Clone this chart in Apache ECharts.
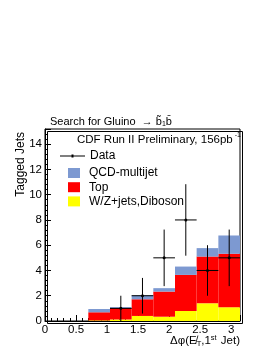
<!DOCTYPE html>
<html><head><meta charset="utf-8">
<script src="https://cdn.jsdelivr.net/npm/echarts@6/dist/echarts.min.js"></script>
<style>html,body{margin:0;padding:0;background:#fff}#c{width:273px;height:353px}</style>
</head><body><div id="c"></div>
<script>
// Bin edges of delta-phi (radians)
const binEdges = [0, 0.349, 0.698, 1.047, 1.396, 1.745, 2.094, 2.443, 2.793, 3.142];
// Stacked background contributions per bin
const wzDiboson = [0, 0, 0.05, 0.12, 0.40, 0.34, 0.79, 1.40, 1.09];
const topQuark  = [0, 0, 0.64, 0.91, 1.32, 1.99, 2.86, 3.70, 4.23];
const qcdMulti  = [0, 0, 0.26, 0.07, 0.32, 0.27, 0.66, 0.67, 1.45];
// Observed data and its error
const dataCounts = [0, 0, 0, 1, 2, 5, 8, 4, 5];
const dataErrors = [0, 0, 0, 1, 1.41, 2.24, 2.83, 2, 2.24];
const xTicks = [0, 0.5, 1, 1.5, 2, 2.5, 3];
const yTicks = [0, 2, 4, 6, 8, 10, 12, 14];

const FONT = 'Liberation Sans, Arial, Helvetica, sans-serif';
const chart = echarts.init(document.getElementById('c'), null, {renderer: 'canvas'});

function stackData(layers, idx) {
  const out = [];
  for (let i = 0; i < binEdges.length - 1; i++) {
    let base = 0;
    for (let k = 0; k < idx; k++) base += layers[k][i];
    out.push([binEdges[i], binEdges[i + 1], base, base + layers[idx][i]]);
  }
  return out;
}
const layers = [wzDiboson, topQuark, qcdMulti];

function histItem(params, api) {
  const p0 = api.coord([api.value(0), api.value(3)]);
  const p1 = api.coord([api.value(1), api.value(2)]);
  const h = p1[1] - p0[1];
  if (h <= 0) return null;
  return {
    type: 'rect',
    shape: {x: p0[0], y: p0[1], width: p1[0] - p0[0], height: h},
    style: {fill: api.visual('color')}
  };
}

const dataPts = [];
for (let i = 0; i < dataCounts.length; i++) {
  if (dataCounts[i] > 0) {
    dataPts.push([binEdges[i], binEdges[i + 1], dataCounts[i], dataErrors[i]]);
  }
}

function dataItem(params, api) {
  const lo = api.value(0), hi = api.value(1), n = api.value(2), e = api.value(3);
  const c = (lo + hi) / 2;
  const pl = api.coord([lo, n]), pr = api.coord([hi, n]);
  const pt = api.coord([c, n + e]), pb = api.coord([c, Math.max(0, n - e)]);
  const pc = api.coord([c, n]);
  const st = {stroke: '#000', lineWidth: 1};
  return {
    type: 'group',
    children: [
      {type: 'line', shape: {x1: pl[0], y1: pl[1], x2: pr[0], y2: pr[1]}, style: st},
      {type: 'line', shape: {x1: pt[0], y1: pt[1], x2: pb[0], y2: pb[1]}, style: st},
      {type: 'circle', shape: {cx: pc[0], cy: pc[1], r: 1.5}, style: {fill: '#000'}}
    ]
  };
}

const option = {
  animation: false,
  backgroundColor: '#fff',
  textStyle: {fontFamily: FONT},
  title: {
    left: 45, top: 110,
    text: '{a|Search for Gluino  \u2192 b\u0303}{s|1}{a|b\u0304}',
    textStyle: {
      fontWeight: 'normal',
      rich: {
        a: {fontFamily: FONT, fontSize: 11, fontWeight: 'normal', color: '#000'},
        s: {fontFamily: FONT, fontSize: 7, fontWeight: 'normal', color: '#000', verticalAlign: 'bottom', padding: [6, 0, 0, 0]}
      }
    }
  },
  grid: {left: 45, top: 129, right: 33, bottom: 32, show: true, borderColor: '#000', borderWidth: 1, backgroundColor: 'transparent'},
  xAxis: {
    type: 'value', min: 0, max: 3.1416, interval: 0.5,
    axisLine: {show: true, lineStyle: {color: '#000', width: 1}},
    axisTick: {show: true, inside: true, length: 6, lineStyle: {color: '#000'}},
    minorTick: {show: true, splitNumber: 5, length: 3, lineStyle: {color: '#000'}},
    axisLabel: {
      show: true, color: '#000', fontSize: 11.5, fontFamily: FONT, margin: 3,
      showMaxLabel: false,
      formatter: v => (xTicks.indexOf(+v.toFixed(2)) >= 0 ? String(+v.toFixed(2)) : '')
    },
    splitLine: {show: false}
  },
  yAxis: {
    type: 'value', min: 0, max: 15.2, interval: 2,
    axisLine: {show: true, lineStyle: {color: '#000', width: 1}},
    axisTick: {show: true, inside: true, length: 6, lineStyle: {color: '#000'}},
    minorTick: {show: true, splitNumber: 5, length: 3, lineStyle: {color: '#000'}},
    axisLabel: {
      show: true, color: '#000', fontSize: 11.5, fontFamily: FONT, margin: 3,
      showMaxLabel: false,
      formatter: v => (yTicks.indexOf(v) >= 0 ? String(v) : '')
    },
    splitLine: {show: false}
  },
  legend: [
    {
      orient: 'vertical', left: 55, top: 145,
      itemWidth: 25, itemHeight: 4, itemGap: 6,
      data: [{name: 'Data', icon: 'path://M0,1.5h25v1h-25z M11.5,0.5h2v3h-2z'}],
      textStyle: {fontFamily: FONT, fontSize: 12, color: '#000', padding: [0, 0, 0, 0]},
      selectedMode: false
    },
    {
      orient: 'vertical', left: 63, top: 162,
      itemWidth: 12, itemHeight: 10, itemGap: 2.2,
      icon: 'rect',
      data: ['QCD-multijet', 'Top', 'W/Z+jets,Diboson'],
      textStyle: {fontFamily: FONT, fontSize: 12, color: '#000', padding: [0, 0, 0, 4]},
      selectedMode: false
    }
  ],
  graphic: [
    {
      type: 'text', left: 77, top: 132, z: 100,
      style: {
        text: '{a|CDF Run II Preliminary, 156pb}{s| -1}',
        rich: {
          a: {fontFamily: FONT, fontSize: 11.5, fill: '#000'},
          s: {fontFamily: FONT, fontSize: 7, fill: '#000', verticalAlign: 'top', padding: [0, 0, 8, 0]}
        }
      }
    },
    {
      type: 'text', x: 21, y: 132, rotation: Math.PI / 2, z: 100,
      style: {text: 'Tagged Jets', font: '12px ' + FONT, fill: '#000', align: 'right', verticalAlign: 'middle'}
    },
    {
      type: 'text', right: 33, top: 334, z: 100,
      style: {
        text: '{a|\u0394\u03c6(E\u0338}{b|T}{a|,1}{c|st}{a| Jet)}',
        rich: {
          a: {fontFamily: FONT, fontSize: 11.5, fill: '#000'},
          b: {fontFamily: FONT, fontSize: 7.5, fill: '#000', padding: [6, 0, 0, 0]},
          c: {fontFamily: FONT, fontSize: 7.5, fill: '#000', padding: [0, 1, 6, 0]}
        }
      }
    },
    {
      type: 'rect', left: 45, top: 129, z: 100, silent: true,
      shape: {width: 195, height: 192},
      style: {fill: 'none', stroke: '#000', lineWidth: 1}
    }
  ],
  series: [
    {name: 'W/Z+jets,Diboson', type: 'custom', renderItem: histItem, color: '#ffff00',
     encode: {x: [0, 1], y: [2, 3]}, data: stackData(layers, 0), z: 2},
    {name: 'Top', type: 'custom', renderItem: histItem, color: '#ff0000',
     encode: {x: [0, 1], y: [2, 3]}, data: stackData(layers, 1), z: 2},
    {name: 'QCD-multijet', type: 'custom', renderItem: histItem, color: '#7d99d1',
     encode: {x: [0, 1], y: [2, 3]}, data: stackData(layers, 2), z: 2},
    {name: 'Data', type: 'custom', renderItem: dataItem, color: '#000',
     encode: {x: [0, 1], y: [2]}, data: dataPts, z: 5}
  ]
};
chart.setOption(option);
</script>
</body></html>
